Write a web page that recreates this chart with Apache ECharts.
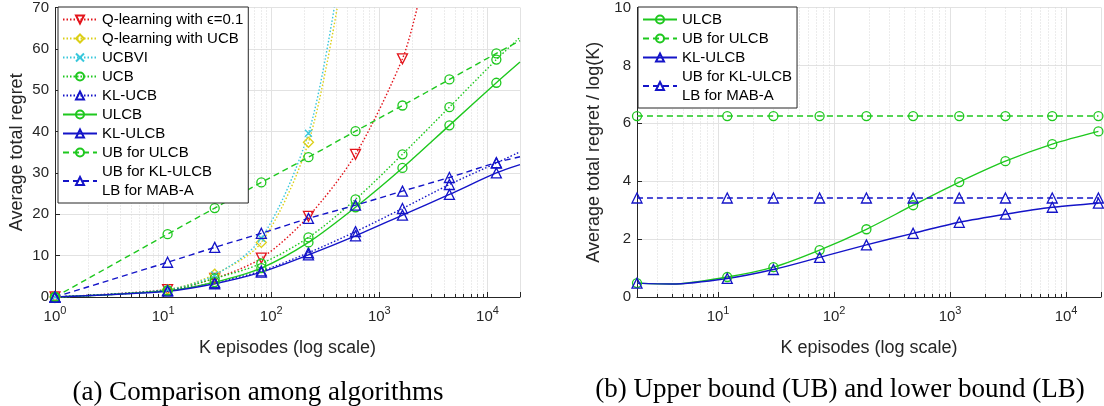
<!DOCTYPE html>
<html>
<head>
<meta charset="utf-8">
<title>Average total regret</title>
<script src="https://cdn.jsdelivr.net/npm/echarts@6.0.0/dist/echarts.min.js"></script>
<style>
    html, body { margin: 0; padding: 0; background: #fff; }
    #main { width: 1104px; height: 406px; }
</style>
</head>
<body>
<div id="main"></div>
<script>
    // (a) episodes where markers are drawn, and regret per algorithm
    var kLeft = [1, 11, 30, 81, 221, 602, 1636, 4447, 12088];
    var qEpsRegret = [0, 1.8, 4.5, 9.4, 19.5, 34.5, 57.6];
    var qEpsExit = [2240, 70];
    var qUcbRegret = [0, 1.8, 5.5, 13.2, 37.4];
    var qUcbExit = [408, 70];
    var ucbviRegret = [0, 1.8, 5.3, 14.2, 39.6];
    var ucbviExit = [383, 70];
    var ucbRegret = [0, 1.6, 4.5, 8.1, 14.4, 23.6, 34.5, 45.9, 57.4];
    var ucbEnd = [20000, 62.8];
    var klUcbRegret = [0, 1.6, 3.5, 6.3, 10.7, 15.8, 21.4, 27.2, 32.4];
    var klUcbEnd = [20000, 35.1];
    var ulcbRegret = [0, 1.5, 3.6, 7.0, 13.2, 21.7, 31.2, 41.5, 51.8];
    var ulcbEnd = [20000, 56.8];
    var klUlcbRegret = [0, 1.4, 3.2, 6.0, 10.2, 14.8, 19.8, 24.8, 30.0];
    var klUlcbEnd = [20000, 32.0];
    var ubUlcbRegret = [0, 15.2, 21.5, 27.7, 33.8, 40.1, 46.3, 52.6, 58.9];
    var ubUlcbEnd = [20000, 62.0];
    var ubKlUlcbRegret = [0, 8.4, 12.0, 15.4, 19.0, 22.2, 25.6, 28.9, 32.5];
    var ubKlUlcbEnd = [20000, 33.9];

    // (b) regret / log(K)
    var kRight = [2, 12, 30, 75, 190, 480, 1200, 3000, 7600, 19000];
    var ulcbNorm = [0.48, 0.69, 1.03, 1.62, 2.34, 3.17, 3.97, 4.69, 5.28, 5.72];
    var klUlcbNorm = [0.48, 0.64, 0.95, 1.37, 1.80, 2.20, 2.58, 2.86, 3.10, 3.24];
    var ubUlcbNorm = [6.25, 6.25, 6.25, 6.25, 6.25, 6.25, 6.25, 6.25, 6.25, 6.25];
    var ubKlUlcbNorm = [3.42, 3.42, 3.42, 3.42, 3.42, 3.42, 3.42, 3.42, 3.42, 3.42];
    var ulcbDip = [4, 0.45];
    var klUlcbDip = [4, 0.45];

    // minor log ticks
    var minorLeft = [2, 3, 4, 5, 6, 7, 8, 9, 20, 30, 40, 50, 60, 70, 80, 90,
        200, 300, 400, 500, 600, 700, 800, 900, 2000, 3000, 4000, 5000, 6000, 7000, 8000, 9000];
    var minorRight = [3, 4, 5, 6, 7, 8, 9, 20, 30, 40, 50, 60, 70, 80, 90,
        200, 300, 400, 500, 600, 700, 800, 900, 2000, 3000, 4000, 5000, 6000, 7000, 8000, 9000];

    var legendLeft = ['Q-learning with \u03f5=0.1', 'Q-learning with UCB', 'UCBVI', 'UCB', 'KL-UCB',
        'ULCB', 'KL-ULCB', 'UB for ULCB', 'UB for KL-ULCB'];
    var legendRight = ['ULCB', 'UB for ULCB', 'KL-ULCB', 'UB for KL-ULCB'];

    var RED = '#e3141b', YEL = '#dccf17', CYA = '#38c8dc', GRN = '#1ec81e', BLU = '#1414c8';
    var INK = '#262626';
    var FONT = 'Liberation Sans';
    var DOT = [1.5, 2], DASH = [6, 4];
    var INVTRI = 'path://M0,0L10,0L5,9Z';
    var CROSS = 'path://M0,0L10,10M0,10L10,0';

    function pts(ks, vals, extra) {
        var d = vals.map(function(v, i) { return [ks[i], v]; });
        (extra || []).forEach(function(p) { d.push({ value: p, symbol: 'none' }); });
        d.sort(function(a, b) {
            return (a.value || a)[0] - (b.value || b)[0];
        });
        return d;
    }

    function line(name, gi, data, color, type, symbol, size) {
        return {
            name: name,
            type: 'line',
            xAxisIndex: gi,
            yAxisIndex: gi,
            data: data,
            smooth: 0.3,
            symbol: symbol,
            symbolSize: size || 9,
            lineStyle: { color: color, width: 1.4, type: type },
            itemStyle: { color: 'rgba(0,0,0,0)', borderColor: color, borderWidth: 1.3 },
            emphasis: { disabled: true },
            z: 3
        };
    }

    function minorGrid(params, api) {
        var cs = params.coordSys;
        var x = Math.round(api.coord([api.value(0), api.value(1)])[0]) + 0.5;
        var yb = cs.y + cs.height;
        return {
            type: 'group',
            children: [
                { type: 'line', shape: { x1: x, y1: cs.y, x2: x, y2: yb }, style: { stroke: '#d8d8d8', lineWidth: 1, lineDash: [1, 2] } },
                { type: 'line', shape: { x1: x, y1: yb, x2: x, y2: yb - 3 }, style: { stroke: INK, lineWidth: 1 } }
            ]
        };
    }

    function logAxis(gi, min) {
        return {
            type: 'log',
            logBase: 10,
            gridIndex: gi,
            min: min,
            max: 20000,
            name: 'K episodes (log scale)',
            nameLocation: 'middle',
            nameGap: 42,
            nameTextStyle: { fontSize: 18, color: INK, fontFamily: FONT },
            axisLine: { lineStyle: { color: INK, width: 1 } },
            axisTick: { inside: true, length: 5, lineStyle: { color: INK } },
            axisLabel: {
                margin: 8,
                formatter: function(v) {
                    var e = Math.round(Math.log10(v));
                    if (Math.abs(Math.pow(10, e) - v) > 1e-6 * v) return '';
                    return '{b|10}{s|' + e + '}';
                },
                rich: {
                    b: { fontSize: 15, color: INK, fontFamily: FONT, lineHeight: 24 },
                    s: { fontSize: 11, color: INK, fontFamily: FONT, lineHeight: 14, verticalAlign: 'top' }
                }
            },
            splitLine: { show: true, lineStyle: { color: '#e2e2e2' } }
        };
    }

    function valAxis(gi, max, interval, name, gap) {
        return {
            type: 'value',
            gridIndex: gi,
            min: 0,
            max: max,
            interval: interval,
            name: name,
            nameLocation: 'middle',
            nameGap: gap,
            nameTextStyle: { fontSize: 18, color: INK, fontFamily: FONT },
            axisLine: { show: true, lineStyle: { color: INK, width: 1 } },
            axisTick: { show: true, inside: true, length: 5, lineStyle: { color: INK } },
            axisLabel: { fontSize: 15, color: INK, fontFamily: FONT, margin: 6 },
            splitLine: { show: true, lineStyle: { color: '#e2e2e2' } }
        };
    }

    function legend(left, names) {
        return {
            orient: 'vertical',
            left: left,
            top: 7,
            data: names,
            itemWidth: 34,
            itemHeight: 10,
            itemGap: 0,
            padding: [3, 5, 3, 4],
            backgroundColor: '#fff',
            borderColor: INK,
            borderWidth: 1,
            selectedMode: false,
            textStyle: { fontSize: 15, color: '#000', fontFamily: FONT, lineHeight: 19 },
            formatter: function(name) {
                return name === 'UB for KL-ULCB' ? 'UB for KL-ULCB\nLB for MAB-A' : name;
            }
        };
    }

    var chart = echarts.init(document.getElementById('main'), null, { renderer: 'canvas' });

    var option = {
        backgroundColor: '#fff',
        animation: false,
        grid: [
            { left: 55, top: 7, width: 465, height: 290 },
            { left: 637, top: 7, width: 464, height: 290 }
        ],
        xAxis: [logAxis(0, 1), logAxis(1, 2)],
        yAxis: [
            valAxis(0, 70, 10, 'Average total regret', 29),
            valAxis(1, 10, 2, 'Average total regret / log(K)', 34)
        ],
        legend: [legend(58, legendLeft), legend(638, legendRight)],
        series: [
            {
                type: 'custom', xAxisIndex: 0, yAxisIndex: 0, silent: true, z: 1,
                renderItem: minorGrid, data: minorLeft.map(function(v) { return [v, 0]; })
            },
            {
                type: 'custom', xAxisIndex: 1, yAxisIndex: 1, silent: true, z: 1,
                renderItem: minorGrid, data: minorRight.map(function(v) { return [v, 0]; })
            },
            line(legendLeft[0], 0, pts(kLeft, qEpsRegret, [qEpsExit]), RED, DOT, INVTRI, 10),
            line(legendLeft[1], 0, pts(kLeft, qUcbRegret, [qUcbExit]), YEL, DOT, 'diamond', 10),
            line(legendLeft[2], 0, pts(kLeft, ucbviRegret, [ucbviExit]), CYA, DOT, CROSS, 7),
            line('UCB', 0, pts(kLeft, ucbRegret, [ucbEnd]), GRN, DOT, 'circle', 9),
            line('KL-UCB', 0, pts(kLeft, klUcbRegret, [klUcbEnd]), BLU, DOT, 'triangle', 10),
            line('ULCB', 0, pts(kLeft, ulcbRegret, [ulcbEnd]), GRN, 'solid', 'circle', 9),
            line('KL-ULCB', 0, pts(kLeft, klUlcbRegret, [klUlcbEnd]), BLU, 'solid', 'triangle', 10),
            line('UB for ULCB', 0, pts(kLeft, ubUlcbRegret, [ubUlcbEnd]), GRN, DASH, 'circle', 9),
            line('UB for KL-ULCB', 0, pts(kLeft, ubKlUlcbRegret, [ubKlUlcbEnd]), BLU, DASH, 'triangle', 10),

            line('ULCB', 1, pts(kRight, ulcbNorm, [ulcbDip]), GRN, 'solid', 'circle', 9),
            line('UB for ULCB', 1, pts(kRight, ubUlcbNorm), GRN, DASH, 'circle', 9),
            line('KL-ULCB', 1, pts(kRight, klUlcbNorm, [klUlcbDip]), BLU, 'solid', 'triangle', 10),
            line('UB for KL-ULCB', 1, pts(kRight, ubKlUlcbNorm), BLU, DASH, 'triangle', 10)
        ],
        graphic: [
            {
                type: 'text', x: 258, y: 393,
                style: { text: '(a) Comparison among algorithms', font: '27px "Liberation Serif"', fill: '#000', align: 'center', verticalAlign: 'middle' }
            },
            {
                type: 'text', x: 840, y: 390,
                style: { text: '(b) Upper bound (UB) and lower bound (LB)', font: '27px "Liberation Serif"', fill: '#000', align: 'center', verticalAlign: 'middle' }
            }
        ]
    };
    chart.setOption(option);
</script>
</body>
</html>
